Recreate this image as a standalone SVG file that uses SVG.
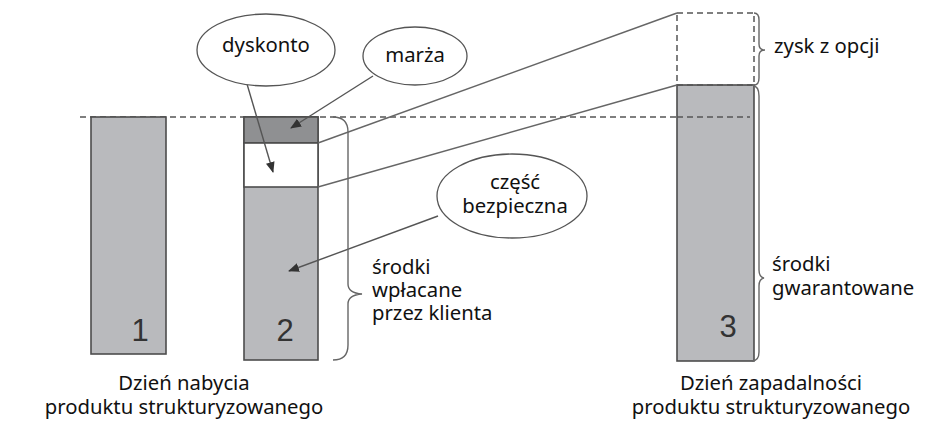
<svg xmlns="http://www.w3.org/2000/svg" width="925" height="422" viewBox="0 0 925 422">
<style>
.bar{fill:#b9babd;stroke:#4d4d4d;stroke-width:1.6}
.dark{fill:#8f9092;stroke:#4d4d4d;stroke-width:1.6}
.white{fill:#fff;stroke:#4d4d4d;stroke-width:1.6}
.dash{fill:none;stroke:#555;stroke-width:1.5;stroke-dasharray:6,4}
.ln{fill:none;stroke:#666;stroke-width:1.5}
.br{fill:none;stroke:#666;stroke-width:1.4}
.arr{fill:none;stroke:#555;stroke-width:1.4;marker-end:url(#ah)}
.ell{fill:#fff;stroke:#555;stroke-width:1.3}
.t{font-family:"Noto Sans","Open Sans",sans-serif;font-size:20.3px;fill:#111}
.c{text-anchor:middle}
.num{font-family:"Liberation Sans",Arial,sans-serif;font-size:31px;fill:#333;text-anchor:middle}
</style>
<defs>
<marker id="ah" markerWidth="11" markerHeight="9" refX="10" refY="4.5" orient="auto" markerUnits="userSpaceOnUse">
<path d="M0,0 L11,4.5 L0,9 Z" fill="#333"/>
</marker>
</defs>
<g id="guide">
<line class="dash" x1="80" y1="117" x2="750" y2="117"/>
</g>
<g id="bar1">
<rect class="bar" x="91" y="117" width="75" height="237"/>
<text class="num" x="140" y="341">1</text>
</g>
<g id="bar2">
<rect class="bar" x="244" y="117" width="74" height="243"/>
<rect class="dark" x="244" y="117" width="74" height="26"/>
<rect class="white" x="244" y="143" width="74" height="44"/>
<text class="num" x="285" y="341">2</text>
</g>
<g id="bar3">
<rect class="bar" x="677" y="85" width="77" height="276"/>
<rect class="dash" x="677" y="13" width="77" height="72"/>
<line class="dash" x1="677" y1="117" x2="750" y2="117"/>
<text class="num" x="728" y="337">3</text>
</g>
<g id="connectors">
<line class="ln" x1="318" y1="143" x2="677" y2="13"/>
<line class="ln" x1="318" y1="187" x2="677" y2="85"/>
<line class="arr" x1="373" y1="76" x2="291" y2="128"/>
<line class="arr" x1="247" y1="84" x2="273" y2="172"/>
<line class="arr" x1="438" y1="216" x2="289" y2="271"/>
</g>
<g id="braces">
<path class="br" d="M333,117 Q348,117 348,132 L348,284 Q348,293 362,294 Q348,295 348,304 L348,345 Q348,360 333,360"/>
<path class="br" d="M754,13 Q759,13 759,20 L759,44 Q759,50 765,50 Q759,50 759,56 L759,78 Q759,85 754,85"/>
<path class="br" d="M752,85 Q759,86 759,96 L759,270 Q759,277 764,278 Q759,279 759,286 L759,352 Q759,361 752,361"/>
</g>
<g id="dyskonto">
<ellipse class="ell" cx="266" cy="50" rx="69" ry="36"/>
<text class="t c" x="266" y="52">dyskonto</text>
</g>
<g id="marza">
<ellipse class="ell" cx="415" cy="56" rx="52" ry="29"/>
<text class="t c" x="415" y="62">marża</text>
</g>
<g id="czesc">
<ellipse class="ell" cx="512" cy="196" rx="75" ry="42"/>
<text class="t c" x="515" y="189">część</text>
<text class="t c" x="515" y="213">bezpieczna</text>
</g>
<g id="labels">
<text class="t" x="774" y="53">zysk z opcji</text>
<text class="t" x="372" y="274">środki</text>
<text class="t" x="372" y="297">wpłacane</text>
<text class="t" x="372" y="320">przez klienta</text>
<text class="t" x="772" y="271">środki</text>
<text class="t" x="772" y="295">gwarantowane</text>
<text class="t c" x="184" y="390">Dzień nabycia</text>
<text class="t c" x="184" y="414">produktu strukturyzowanego</text>
<text class="t c" x="771" y="390">Dzień zapadalności</text>
<text class="t c" x="771" y="414">produktu strukturyzowanego</text>
</g>
</svg>
